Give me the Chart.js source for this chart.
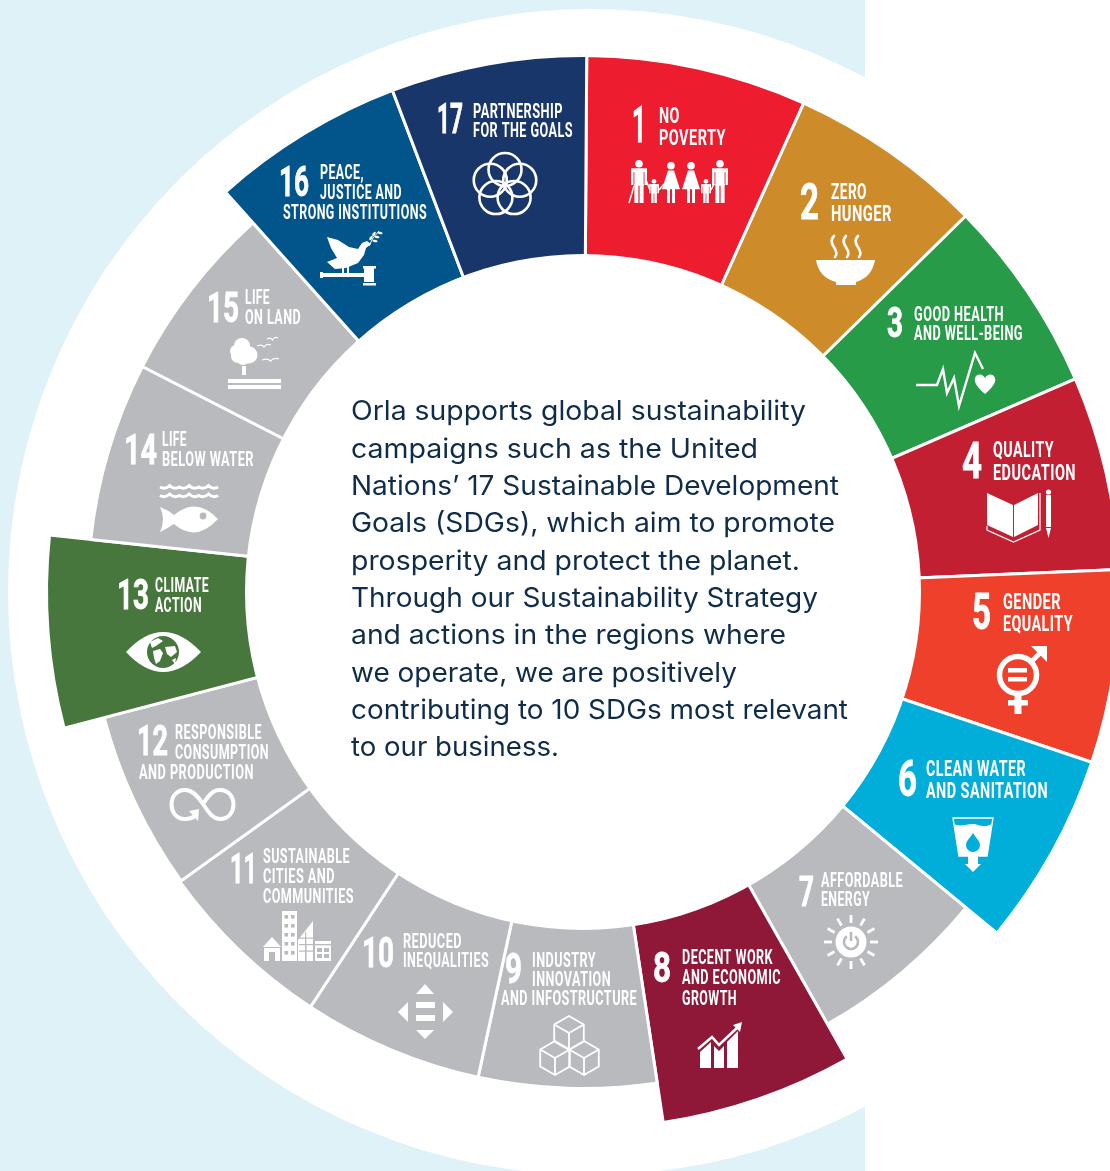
<!DOCTYPE html>
<html>
<head>
<meta charset="utf-8">
<title>Sustainable Development Goals</title>
<script src="https://cdn.jsdelivr.net/npm/chart.js@4"></script>
<style>
  html, body { margin: 0; padding: 0; background: #fff; width: 1110px; height: 1171px; overflow: hidden; }
  canvas { display: block; }
</style>
</head>
<body>
<!-- canvas is wider and taller than the page so the wheel centre lands at 583,592 and runs past the right edge -->
<canvas id="wheel" width="1166" height="1184"></canvas>
<script>
const sdgNumbers = ["1","2","3","4","5","6","7","8","9","10","11","12","13","14","15","16","17"];
const sdgTitles = [
  ["NO","POVERTY"],
  ["ZERO","HUNGER"],
  ["GOOD HEALTH","AND WELL-BEING"],
  ["QUALITY","EDUCATION"],
  ["GENDER","EQUALITY"],
  ["CLEAN WATER","AND SANITATION"],
  ["AFFORDABLE","ENERGY"],
  ["DECENT WORK","AND ECONOMIC","GROWTH"],
  ["INDUSTRY","INNOVATION","AND INFOSTRUCTURE"],
  ["REDUCED","INEQUALITIES"],
  ["SUSTAINABLE","CITIES AND","COMMUNITIES"],
  ["RESPONSIBLE","CONSUMPTION","AND PRODUCTION"],
  ["CLIMATE","ACTION"],
  ["LIFE","BELOW WATER"],
  ["LIFE","ON LAND"],
  ["PEACE,","JUSTICE AND","STRONG INSTITUTIONS"],
  ["PARTNERSHIP","FOR THE GOALS"],
];
// width of each slice in degrees, clockwise from slice 1
const sliceDegrees = [23.9,21.2,21.1,21,20.9,21,21,20.9,20.8,21.1,21,21,20.8,21,21.1,21,21.2];
// outer radius of each slice, the ten highlighted goals stand out from the grey ones
const sliceRadius = [536.5,536.5,536.5,536.5,536.5,536.5,496.5,536.5,496.5,496.5,496.5,495,536.5,495,495,536.5,536.5];
const sliceColors = ["#ed1c2e","#cd8b2a","#279b48","#c31f33","#ef402b","#00aed9","#b9babd","#8f1838","#b9babd","#b9babd","#b9babd","#b9babd","#48773e","#b9babd","#b9babd","#02558b","#19366a"];
const holeRadius = 338;
const introLines = [
  "Orla supports global sustainability",
  "campaigns such as the United",
  "Nations\u2019 17 Sustainable Development",
  "Goals (SDGs), which aim to promote",
  "prosperity and protect the planet.",
  "Through our Sustainability Strategy",
  "and actions in the regions where",
  "we operate, we are positively",
  "contributing to 10 SDGs most relevant",
  "to our business.",
];

// text placement: [left, baseline, width]; size is the number font size, title size follows it
const numberBoxes = [
  [632,142,14,50],[800,219,19,50],[887,337,16,42],[962,478,20,50],[972,629,19,50],[898,796,19,50],
  [799,906,15,42],[653,982,18,42],[505,983,17,42],[362,967,32,42],[230,883,27,42],[137,755,31,42],
  [117,609,32,42],[124,464,33,42],[207,322,32,42],[279,196,30,42],[437,133,26,42],
];
const titleBoxes = [
  [[659,123,21],[659,145,67]],
  [[831,199,36],[831,221,61]],
  [[914,321,90],[914,340,109]],
  [[993,457,61],[993,480,83]],
  [[1003,609,58],[1003,631,70]],
  [[926,776,100],[926,798,122]],
  [[821,887,82],[821,906,49]],
  [[682,964,91],[682,984,99],[682,1005,55]],
  [[532,967,64],[532,986,79],[501,1005,136]],
  [[403,948,59],[403,967,86]],
  [[263,863,87],[263,883,72],[263,903,91]],
  [[175,739,87],[175,759,94],[139,779,115]],
  [[155,592,54],[155,612,47]],
  [[162,446,25],[162,466,92]],
  [[245,304,25],[245,324,56]],
  [[320,179,44],[320,199,82],[283,219,144]],
  [[473,118,90],[473,137,100]],
];
const titleSizes = [22,22,20,22,22,22,20,20,20,20,20,20,20,20,20,20,20];
const introLeft = 351;
const introBaselines = [420,458,495,532,570,607,644,682,719,756];
const introWidths = [455,407,488,484,449,467,435,386,497,208];

const WHITE = "#fff";
const GREY = "#b9babd";

function fitText(ctx, text, x, y, w, font, opts) {
  const o = opts || {};
  ctx.save();
  ctx.font = font;
  ctx.textAlign = "left";
  ctx.textBaseline = "alphabetic";
  if (o.spacing) ctx.letterSpacing = o.spacing;
  const sx = w / ctx.measureText(text).width;
  ctx.translate(x, y);
  ctx.scale(sx, 1);
  ctx.fillText(text, 0, 0);
  if (o.heavy) {
    ctx.lineWidth = o.heavy;
    ctx.strokeText(text, 0, 0);
  }
  ctx.restore();
}

function poly(ctx, pts, close) {
  ctx.beginPath();
  pts.forEach((p, i) => (i ? ctx.lineTo(p[0], p[1]) : ctx.moveTo(p[0], p[1])));
  if (close !== false) ctx.closePath();
}
function fillPoly(ctx, pts) { poly(ctx, pts); ctx.fill(); }
function strokeLine(ctx, pts) { poly(ctx, pts, false); ctx.stroke(); }
function dot(ctx, x, y, r) { ctx.beginPath(); ctx.arc(x, y, r, 0, Math.PI * 2); ctx.fill(); }
function ring(ctx, x, y, r) { ctx.beginPath(); ctx.arc(x, y, r, 0, Math.PI * 2); ctx.stroke(); }

function person(ctx, x, top, s, skirt) {
  dot(ctx, x, top + 3.8 * s, 3.8 * s);
  const t = top + 8.5 * s;
  const h = 203 - t;
  if (skirt) {
    fillPoly(ctx, [[x - 3 * s, t], [x + 3 * s, t], [x + 9 * s, t + h * .58], [x - 9 * s, t + h * .58]]);
    ctx.fillRect(x - 4 * s, t + h * .55, 3 * s, h * .45);
    ctx.fillRect(x + 1 * s, t + h * .55, 3 * s, h * .45);
  } else {
    ctx.fillRect(x - 8 * s, t, 16 * s, 3.5 * s);
    ctx.fillRect(x - 8 * s, t, 2.5 * s, h * .48);
    ctx.fillRect(x + 5.5 * s, t, 2.5 * s, h * .48);
    ctx.fillRect(x - 4.6 * s, t, 9.2 * s, h * .5);
    ctx.fillRect(x - 4.6 * s, t + h * .45, 4 * s, h * .55);
    ctx.fillRect(x + .6 * s, t + h * .45, 4 * s, h * .55);
  }
}

function cube(ctx, cx, cy, s) {
  const dx = s * .87, dy = s * .5;
  poly(ctx, [[cx, cy - s], [cx + dx, cy - dy], [cx + dx, cy + dy], [cx, cy + s], [cx - dx, cy + dy], [cx - dx, cy - dy]]);
  ctx.stroke();
  strokeLine(ctx, [[cx - dx, cy - dy], [cx, cy], [cx + dx, cy - dy]]);
  strokeLine(ctx, [[cx, cy], [cx, cy + s]]);
}

// goal icons, same order as the slices
const icons = [
  function (ctx) {
    person(ctx, 639, 160, 1, false);
    person(ctx, 654, 179, .62, false);
    person(ctx, 671, 162, 1, true);
    person(ctx, 691, 162, 1, true);
    person(ctx, 706, 179, .62, false);
    person(ctx, 720, 160, 1, false);
    ctx.lineWidth = 1.5;
    strokeLine(ctx, [[634, 186], [629, 203]]);
    strokeLine(ctx, [[646, 180], [650, 190]]);
    strokeLine(ctx, [[659, 190], [664, 184]]);
    strokeLine(ctx, [[711, 190], [714, 184]]);
  },
  function (ctx) {
    ctx.beginPath();
    ctx.moveTo(816, 260);
    ctx.lineTo(875, 260);
    ctx.bezierCurveTo(873, 272, 866, 279, 856, 282);
    ctx.lineTo(856, 285);
    ctx.lineTo(836, 285);
    ctx.lineTo(836, 282);
    ctx.bezierCurveTo(825, 279, 818, 272, 816, 260);
    ctx.fill();
    ctx.lineWidth = 2.6;
    ctx.lineCap = "round";
    [833, 845, 857].forEach((x) => {
      ctx.beginPath();
      ctx.moveTo(x + 1, 236);
      ctx.bezierCurveTo(x - 7, 244, x + 8, 250, x + 2, 257);
      ctx.stroke();
    });
    ctx.lineCap = "butt";
  },
  function (ctx) {
    ctx.lineWidth = 2.4;
    strokeLine(ctx, [[916, 385], [937, 385], [943, 369], [947, 393], [954, 378], [959, 406], [975, 353], [983, 369]]);
    ctx.beginPath();
    ctx.moveTo(985, 394);
    ctx.bezierCurveTo(976, 386, 974, 382, 975, 378);
    ctx.bezierCurveTo(977, 373, 983, 374, 985, 378);
    ctx.bezierCurveTo(987, 374, 993, 373, 995, 378);
    ctx.bezierCurveTo(996, 382, 994, 386, 985, 394);
    ctx.fill();
  },
  function (ctx) {
    fillPoly(ctx, [[987, 493], [1013, 505], [1013, 537], [987, 525]]);
    fillPoly(ctx, [[1014, 505], [1038, 493], [1038, 525], [1014, 537]]);
    ctx.lineWidth = 1.2;
    strokeLine(ctx, [[987, 526], [987, 530], [1013.5, 542], [1040, 530], [1040, 493]]);
    ctx.fillRect(1046, 495, 5, 32);
    dot(ctx, 1048.5, 492, 2.6);
    fillPoly(ctx, [[1046, 528], [1051, 528], [1048.5, 538]]);
  },
  function (ctx) {
    ctx.lineWidth = 5.5;
    ring(ctx, 1018, 675, 18.5);
    ctx.fillRect(1008, 668, 19, 4.5);
    ctx.fillRect(1008, 677, 19, 4.5);
    ctx.fillRect(1014.5, 695, 7, 19);
    ctx.fillRect(1008, 700, 20, 5.5);
    ctx.lineWidth = 5;
    strokeLine(ctx, [[1031, 662], [1042, 651]]);
    fillPoly(ctx, [[1047, 646], [1047, 662], [1042, 657], [1036, 651], [1031, 646]]);
  },
  function (ctx) {
    ctx.lineWidth = 1.4;
    poly(ctx, [[953, 818], [993, 818], [987, 856], [959, 856]]);
    ctx.stroke();
    ctx.beginPath();
    ctx.moveTo(954, 824);
    ctx.bezierCurveTo(962, 828, 970, 822, 978, 825);
    ctx.bezierCurveTo(984, 827, 988, 826, 992, 824);
    ctx.lineTo(987, 856);
    ctx.lineTo(959, 856);
    ctx.closePath();
    ctx.fill();
    ctx.fillStyle = "#00aed9";
    ctx.beginPath();
    ctx.moveTo(973, 833);
    ctx.bezierCurveTo(976, 838, 980, 841, 980, 845);
    ctx.arc(973, 845, 7, 0, Math.PI);
    ctx.bezierCurveTo(966, 841, 970, 838, 973, 833);
    ctx.fill();
    ctx.fillStyle = WHITE;
    ctx.fillRect(968, 856, 10, 9);
    fillPoly(ctx, [[965, 864], [981, 864], [973, 872]]);
  },
  function (ctx) {
    const cx = 851, cy = 942;
    ctx.lineWidth = 2.8;
    for (let i = 0; i < 12; i++) {
      const a = i * Math.PI / 6;
      strokeLine(ctx, [[cx + 19 * Math.cos(a), cy + 19 * Math.sin(a)], [cx + 27 * Math.cos(a), cy + 27 * Math.sin(a)]]);
    }
    dot(ctx, cx, cy, 15.5);
    ctx.strokeStyle = GREY;
    ctx.lineWidth = 2.6;
    ctx.beginPath();
    ctx.arc(cx, cy, 7, -Math.PI * .3, Math.PI * 1.3);
    ctx.stroke();
    strokeLine(ctx, [[cx, cy - 10], [cx, cy - 1]]);
    ctx.strokeStyle = WHITE;
  },
  function (ctx) {
    fillPoly(ctx, [[700, 1068], [700, 1052], [711, 1042], [711, 1068]]);
    fillPoly(ctx, [[714, 1068], [714, 1046], [719, 1051], [724, 1046], [724, 1068]]);
    fillPoly(ctx, [[727, 1068], [727, 1042], [738, 1031], [738, 1068]]);
    ctx.lineWidth = 2.6;
    strokeLine(ctx, [[698, 1049], [712, 1037], [719, 1045], [738, 1027]]);
    fillPoly(ctx, [[742, 1022], [740, 1032], [733, 1025]]);
  },
  function (ctx) {
    ctx.lineWidth = 1.8;
    cube(ctx, 569, 1033, 17);
    cube(ctx, 555, 1058, 17);
    cube(ctx, 584, 1058, 17);
  },
  function (ctx) {
    fillPoly(ctx, [[425, 984], [434, 994], [416, 994]]);
    fillPoly(ctx, [[416, 1030], [434, 1030], [425, 1039]]);
    fillPoly(ctx, [[398, 1012], [408, 1002], [408, 1022]]);
    fillPoly(ctx, [[443, 1002], [453, 1012], [443, 1022]]);
    ctx.fillRect(416, 1002, 19, 6);
    ctx.fillRect(416, 1015, 19, 6);
  },
  function (ctx) {
    fillPoly(ctx, [[272, 937], [281, 947], [263, 947]]);
    ctx.fillRect(264, 948, 16, 13);
    ctx.fillRect(282, 911, 15, 50);
    fillPoly(ctx, [[298, 940], [313, 921], [313, 961], [298, 961]]);
    ctx.fillRect(315, 941, 16, 20);
    ctx.fillStyle = GREY;
    ctx.fillRect(269, 952, 6, 9);
    for (let r = 0; r < 5; r++) {
      ctx.fillRect(284.5, 915 + r * 9, 3.6, 3.6);
      ctx.fillRect(291, 915 + r * 9, 3.6, 3.6);
    }
    for (let r = 0; r < 4; r++) {
      if (r) ctx.fillRect(299, 957 - r * 6.5, 14, 1.2);
      ctx.fillRect(305, 932 + r * 7, 1.2, 29 - r * 7);
    }
    ctx.fillRect(315, 944, 16, 1.3);
    ctx.fillRect(317, 948, 5, 4); ctx.fillRect(324, 948, 5, 4);
    ctx.fillRect(317, 954, 5, 4); ctx.fillRect(324, 954, 5, 4);
    ctx.fillStyle = WHITE;
  },
  function (ctx) {
    ctx.lineWidth = 4;
    ctx.beginPath();
    ctx.moveTo(203, 804);
    ctx.bezierCurveTo(212, 790, 216, 790, 220, 790);
    ctx.bezierCurveTo(238, 790, 238, 819, 220, 819);
    ctx.bezierCurveTo(213, 819, 209, 813, 203, 804);
    ctx.bezierCurveTo(197, 795, 192, 790, 185, 790);
    ctx.bezierCurveTo(167, 790, 167, 819, 185, 819);
    ctx.bezierCurveTo(190, 819, 193, 818, 196, 815);
    ctx.stroke();
    fillPoly(ctx, [[189, 811], [199, 809], [198, 821]]);
  },
  function (ctx) {
    ctx.beginPath();
    ctx.moveTo(126, 652);
    ctx.quadraticCurveTo(163, 612, 201, 652);
    ctx.quadraticCurveTo(163, 692, 126, 652);
    ctx.fill();
    ctx.fillStyle = "#48773e";
    dot(ctx, 163, 652, 16);
    ctx.fillStyle = WHITE;
    fillPoly(ctx, [[150, 642], [158, 638], [163, 641], [156, 646], [152, 648]]);
    fillPoly(ctx, [[153, 651], [160, 649], [163, 653], [160, 661], [156, 664], [154, 658]]);
    fillPoly(ctx, [[165, 647], [175, 646], [177, 652], [171, 657], [167, 654]]);
    fillPoly(ctx, [[172, 660], [176, 658], [175, 664]]);
  },
  function (ctx) {
    ctx.lineWidth = 3;
    [487, 495.5].forEach((y) => {
      ctx.beginPath();
      ctx.moveTo(160, y);
      for (let x = 160; x < 216; x += 19.4) {
        ctx.quadraticCurveTo(x + 5, y + 3, x + 9.7, y - 1.5);
        ctx.quadraticCurveTo(x + 14, y + 3, x + 19.4, y);
      }
      ctx.stroke();
    });
    ctx.beginPath();
    ctx.moveTo(160, 507);
    ctx.quadraticCurveTo(168, 510, 174, 515);
    ctx.quadraticCurveTo(196, 496, 218, 519);
    ctx.quadraticCurveTo(196, 543, 174, 524);
    ctx.quadraticCurveTo(168, 528, 160, 532);
    ctx.quadraticCurveTo(166, 519, 160, 507);
    ctx.fill();
    ctx.fillStyle = GREY;
    dot(ctx, 203, 516, 3.4);
    ctx.fillStyle = WHITE;
  },
  function (ctx) {
    dot(ctx, 242, 346, 8);
    dot(ctx, 236, 351, 6);
    dot(ctx, 238, 356, 7);
    dot(ctx, 249, 355, 8.5);
    dot(ctx, 243, 358, 7);
    ctx.fillRect(242, 366, 4, 9);
    ctx.fillRect(228, 379, 53, 4);
    ctx.fillRect(228, 385, 53, 4);
    ctx.lineWidth = 1.2;
    [[257, 346, 14], [267, 339, 11], [262, 360, 17]].forEach((b) => {
      ctx.beginPath();
      ctx.moveTo(b[0], b[1]);
      ctx.quadraticCurveTo(b[0] + b[2] * .35, b[1] - 2, b[0] + b[2] * .5, b[1] + 1);
      ctx.quadraticCurveTo(b[0] + b[2] * .7, b[1] - 3, b[0] + b[2], b[1] - 1);
      ctx.stroke();
    });
  },
  function (ctx) {
    fillPoly(ctx, [[327, 237], [338, 240], [349, 247], [358, 249], [362, 243], [367, 241], [371, 244], [366, 248], [364, 255], [358, 263], [346, 268], [335, 269], [327, 262], [337, 258], [331, 248]]);
    ctx.fillRect(342, 267, 2, 8);
    ctx.fillRect(347, 267, 2, 8);
    ctx.fillRect(322, 273, 42, 4);
    ctx.fillRect(320, 272, 3, 6);
    ctx.fillRect(364, 268, 10, 14);
    ctx.fillRect(363, 266, 13, 2.5);
    ctx.fillRect(363, 283, 13, 2.5);
    ctx.lineWidth = 1;
    strokeLine(ctx, [[369, 246], [373, 238], [379, 231]]);
    [[371, 238, -1], [374, 234, -1], [375, 241, .2], [377, 237, .2], [380, 233, .2]].forEach((l) => {
      ctx.beginPath();
      ctx.ellipse(l[0], l[1], 2.6, 1.2, l[2], 0, Math.PI * 2);
      ctx.fill();
    });
  },
  function (ctx) {
    ctx.lineWidth = 2.6;
    for (let i = 0; i < 5; i++) {
      const a = -Math.PI / 2 + i * Math.PI * 2 / 5;
      ring(ctx, 505 + 15.5 * Math.cos(a), 185 + 15.5 * Math.sin(a), 16.5);
    }
  },
];

const backdrop = {
  id: "backdrop",
  beforeDraw(chart) {
    const ctx = chart.ctx;
    ctx.save();
    ctx.fillStyle = "#dff2f8";
    ctx.fillRect(0, 0, 865, chart.height);
    ctx.fillStyle = WHITE;
    ctx.beginPath();
    ctx.arc(591, 592, 583, 0, Math.PI * 2);
    ctx.fill();
    ctx.restore();
  },
};

const wheelText = {
  id: "wheelText",
  afterDatasetsDraw(chart) {
    const ctx = chart.ctx;
    const r = chart.scales.r;
    ctx.save();
    ctx.fillStyle = WHITE;
    ctx.beginPath();
    ctx.arc(r.xCenter, r.yCenter, r.getDistanceFromCenterForValue(holeRadius), 0, Math.PI * 2);
    ctx.fill();

    sdgNumbers.forEach((n, i) => {
      const numberBox = numberBoxes[i];
      ctx.fillStyle = WHITE;
      ctx.strokeStyle = WHITE;
      fitText(ctx, n, numberBox[0], numberBox[1], numberBox[2], `bold ${numberBox[3]}px "Liberation Sans Narrow", Roboto, sans-serif`, { heavy: 0.8 });
      sdgTitles[i].forEach((line, j) => {
        const b = titleBoxes[i][j];
        fitText(ctx, line, b[0], b[1], b[2], `bold ${titleSizes[i]}px "Liberation Sans Narrow", Roboto, sans-serif`, { spacing: "0.7px" });
      });
      icons[i](ctx);
    });

    ctx.fillStyle = "#0f2c4a";
    introLines.forEach((line, i) => {
      fitText(ctx, line, introLeft, introBaselines[i], introWidths[i], '27px Inter, "Open Sans", sans-serif');
    });
    ctx.restore();
  },
};

new Chart(document.getElementById("wheel"), {
  type: "polarArea",
  data: {
    labels: sdgNumbers,
    datasets: [{
      data: sliceRadius,
      angle: sliceDegrees,
      backgroundColor: sliceColors,
      borderColor: WHITE,
      borderWidth: 3,
    }],
  },
  options: {
    responsive: false,
    animation: false,
    layout: { padding: 0 },
    plugins: { legend: { display: false }, tooltip: { enabled: false } },
    scales: {
      r: {
        min: 0,
        max: 583,
        startAngle: 0.4,
        ticks: { display: false },
        grid: { display: false },
        angleLines: { display: false },
        pointLabels: { display: false },
      },
    },
  },
  plugins: [backdrop, wheelText],
});
</script>
</body>
</html>
